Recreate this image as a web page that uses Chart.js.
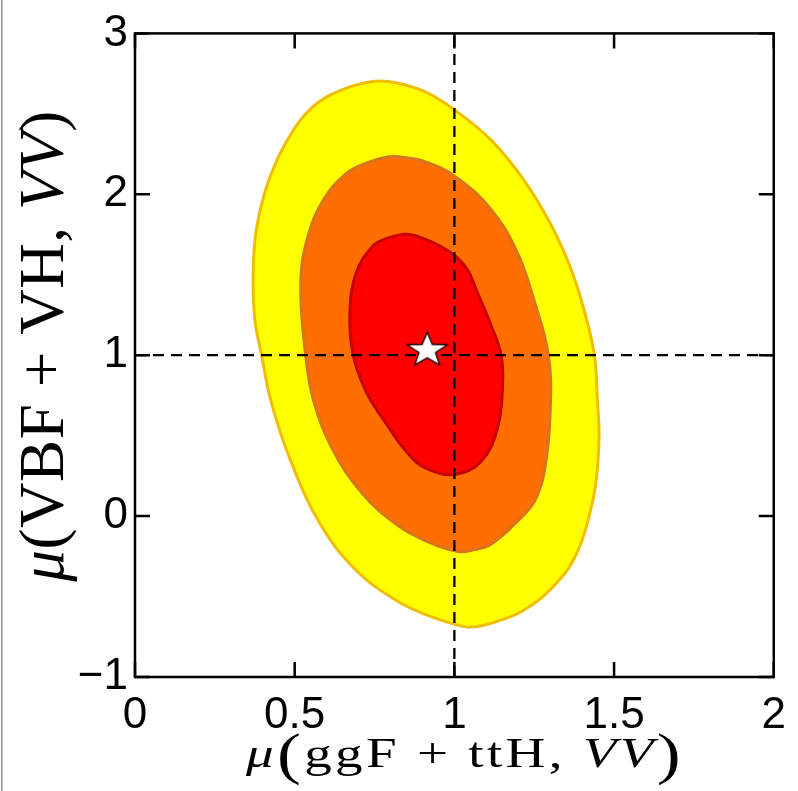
<!DOCTYPE html>
<html>
<head>
<meta charset="utf-8">
<script src="https://cdn.jsdelivr.net/npm/chart.js@4.4.1/dist/chart.umd.min.js"></script>
<style>
  html, body { margin: 0; padding: 0; background: #fff; }
  #contenedor { position: relative; width: 798px; height: 791px; }
</style>
</head>
<body>
<div id="contenedor"><canvas id="grafico"></canvas></div>
<script>
// Contornos del ajuste en el plano (mu ggF+ttH, mu VBF+VH), puntos [x, y] en sentido horario desde arriba
const contornoExterior = [
    [0.752, 2.702], [0.817, 2.693], [0.909, 2.636], [1.002, 2.522], [1.115, 2.337], [1.217, 2.090],
    [1.299, 1.823], [1.361, 1.556], [1.402, 1.309], [1.438, 1.004], [1.448, 0.711], [1.453, 0.508],
    [1.448, 0.300], [1.433, 0.094], [1.387, -0.215], [1.319, -0.418], [1.217, -0.585], [1.116, -0.665],
    [1.048, -0.690], [1.002, -0.673], [0.909, -0.611], [0.817, -0.523], [0.693, -0.338], [0.580, -0.049],
    [0.488, 0.341], [0.426, 0.712], [0.396, 1.004], [0.375, 1.226], [0.370, 1.514], [0.380, 1.781],
    [0.416, 2.070], [0.475, 2.330], [0.555, 2.540], [0.652, 2.652]
];
const contornoMedio = [
    [0.795, 2.233], [0.847, 2.227], [0.909, 2.202], [1.002, 2.111], [1.115, 1.905], [1.197, 1.638],
    [1.248, 1.349], [1.294, 1.004], [1.300, 0.650], [1.282, 0.280], [1.251, 0.094], [1.199, -0.029],
    [1.116, -0.173], [1.063, -0.208], [1.011, -0.220], [0.909, -0.152], [0.817, -0.049], [0.714, 0.136],
    [0.622, 0.403], [0.560, 0.712], [0.534, 1.004], [0.519, 1.432], [0.539, 1.720], [0.591, 1.967],
    [0.663, 2.131], [0.724, 2.193]
];
const contornoInterior = [
    [0.837, 1.751], [0.872, 1.746], [0.909, 1.720], [0.955, 1.678], [1.002, 1.617], [1.042, 1.527],
    [1.069, 1.403], [1.115, 1.185], [1.146, 1.004], [1.151, 0.815], [1.135, 0.547], [1.084, 0.341],
    [1.002, 0.259], [0.909, 0.300], [0.854, 0.391], [0.796, 0.547], [0.724, 0.773], [0.683, 1.004],
    [0.673, 1.267], [0.693, 1.514], [0.745, 1.679], [0.786, 1.724]
];

// Mejor ajuste y líneas de referencia (SM = 1)
const mejorAjuste = [[0.915, 1.03]];
const lineaHorizontal = [[0, 1], [2, 1]];
const lineaVertical = [[1, -1], [1, 3]];

// Ejes
const xTicks = [0, 0.5, 1, 1.5, 2];
const xTickLabels = ['0', '0.5', '1', '1.5', '2'];
const yTicks = [-1, 0, 1, 2, 3];
const yTickLabels = ['\u22121', '0', '1', '2', '3'];

// Títulos: [texto, 'i' cursiva / 'r' recta, factor de tamaño, desplazamiento vertical]
const tituloX = [['μ', 'i'], ['(', 'r', 1.3, 6], ['ggF', 'r'], [' + ', 'r'], ['ttH', 'r'], [', ', 'r'], ['VV', 'i'], [')', 'r', 1.3, 6]];
const tituloY = [['μ', 'i'], ['(', 'r'], ['VBF', 'r'], [' + ', 'r'], ['VH', 'r'], [', ', 'r'], ['VV', 'i'], [')', 'r']];

const aPuntos = arr => arr.map(([x, y]) => ({ x, y }));

// Estrella blanca de cinco puntas para el mejor ajuste
function crearEstrella() {
    const c = document.createElement('canvas');
    c.width = 48; c.height = 40;
    const g = c.getContext('2d');
    const cx = 24, cy = 20, R = 18, r = 7.4, sx = 1.17;
    g.beginPath();
    for (let i = 0; i < 10; i++) {
        const rad = i % 2 === 0 ? R : r;
        const ang = -Math.PI / 2 + i * Math.PI / 5;
        g.lineTo(cx + rad * Math.cos(ang) * sx, cy + rad * Math.sin(ang));
    }
    g.closePath();
    g.fillStyle = '#fff';
    g.fill();
    g.lineWidth = 1.3;
    g.strokeStyle = '#000';
    g.stroke();
    return c;
}

function dibujarTitulo(ctx, piezas, tam, sx, espacio) {
    const fuente = p => `${p[1] === 'i' ? 'italic ' : ''}${Math.round(tam * (p[2] || 1))}px "Liberation Serif"`;
    ctx.letterSpacing = espacio + 'px';
    let total = 0;
    const anchos = piezas.map(p => {
        ctx.font = fuente(p);
        const w = ctx.measureText(p[0]).width;
        total += w;
        return w;
    });
    ctx.save();
    ctx.scale(sx, 1);
    let x = -total / 2;
    piezas.forEach((p, i) => {
        ctx.font = fuente(p);
        ctx.fillText(p[0], x, p[3] || 0);
        x += anchos[i];
    });
    ctx.restore();
    ctx.letterSpacing = '0px';
}

// Los contornos son curvas cerradas: se suavizan también en el punto de unión
const cerrarContornos = {
    id: 'cerrarContornos',
    afterDatasetUpdate(chart, args) {
        if (chart.data.datasets[args.index].cerrado && args.meta.dataset) {
            args.meta.dataset._loop = true;
            args.meta.dataset._fullLoop = true;
        }
    }
};

// Fondo, marco con marcas hacia dentro y títulos de los ejes
const marco = {
    id: 'marco',
    beforeDraw(chart) {
        const ctx = chart.ctx;
        ctx.save();
        ctx.fillStyle = '#fff';
        ctx.fillRect(0, 0, chart.width, chart.height);
        ctx.fillStyle = '#8c8c8c';
        ctx.fillRect(1, 0, 1.5, chart.height);
        ctx.restore();
    },
    afterDraw(chart) {
        const { ctx, chartArea: a, scales: { x, y } } = chart;
        ctx.save();
        ctx.strokeStyle = '#000';
        ctx.lineWidth = 2.5;
        ctx.beginPath();
        xTicks.forEach(v => {
            const px = x.getPixelForValue(v);
            ctx.moveTo(px, a.bottom); ctx.lineTo(px, a.bottom - 15);
            ctx.moveTo(px, a.top); ctx.lineTo(px, a.top + 15);
        });
        yTicks.forEach(v => {
            const py = y.getPixelForValue(v);
            ctx.moveTo(a.left, py); ctx.lineTo(a.left + 15, py);
            ctx.moveTo(a.right, py); ctx.lineTo(a.right - 15, py);
        });
        ctx.stroke();
        ctx.strokeRect(a.left, a.top, a.right - a.left, a.bottom - a.top);

        ctx.fillStyle = '#000';
        ctx.textBaseline = 'alphabetic';
        ctx.save();
        ctx.translate(465, 767);
        dibujarTitulo(ctx, tituloX, 43, 1.28, 2.6);
        ctx.restore();
        ctx.save();
        ctx.translate(63, 346);
        ctx.rotate(-Math.PI / 2);
        dibujarTitulo(ctx, tituloY, 63, 1.0, 0.6);
        ctx.restore();
        ctx.restore();
    }
};

const contorno = (datos, relleno, borde, orden) => ({
    data: aPuntos(datos),
    cerrado: true,
    showLine: true,
    fill: 'shape',
    backgroundColor: relleno,
    borderColor: borde,
    borderWidth: 3,
    tension: 0.4,
    pointRadius: 0,
    order: orden
});

const discontinua = datos => ({
    data: aPuntos(datos),
    showLine: true,
    fill: false,
    borderColor: '#000',
    borderWidth: 2.3,
    borderDash: [11, 7],
    pointRadius: 0,
    order: 1
});

const fuenteTicks = { family: '"Liberation Sans", Arial, sans-serif', size: 44 };

new Chart(document.getElementById('grafico'), {
    type: 'scatter',
    data: {
        datasets: [
            contorno(contornoExterior, '#ffff00', '#f0be00', 4),
            contorno(contornoMedio, '#ff6e00', '#d8731e', 3),
            contorno(contornoInterior, '#ff0000', '#c80000', 2),
            discontinua(lineaHorizontal),
            discontinua(lineaVertical),
            {
                data: aPuntos(mejorAjuste),
                pointStyle: crearEstrella(),
                pointRadius: 20,
                order: 0
            }
        ]
    },
    options: {
        responsive: true,
        maintainAspectRatio: false,
        devicePixelRatio: 1,
        animation: false,
        events: [],
        layout: { padding: { top: 29, right: 14, left: 0, bottom: 0 } },
        plugins: { legend: { display: false }, tooltip: { enabled: false } },
        scales: {
            x: {
                type: 'linear',
                min: 0, max: 2,
                afterFit: s => { s.height = 114; },
                afterBuildTicks: s => { s.ticks = xTicks.map(v => ({ value: v })); },
                grid: { display: false, drawTicks: false },
                border: { display: false },
                ticks: {
                    color: '#000',
                    font: fuenteTicks,
                    padding: 12,
                    maxRotation: 0,
                    callback: v => xTickLabels[xTicks.indexOf(v)]
                }
            },
            y: {
                type: 'linear',
                min: -1, max: 3,
                afterFit: s => { s.width = 135; },
                afterBuildTicks: s => { s.ticks = yTicks.map(v => ({ value: v })); },
                grid: { display: false, drawTicks: false },
                border: { display: false },
                ticks: {
                    color: '#000',
                    font: fuenteTicks,
                    padding: 7,
                    callback: v => yTickLabels[yTicks.indexOf(v)]
                }
            }
        }
    },
    plugins: [cerrarContornos, marco]
});
</script>
</body>
</html>
